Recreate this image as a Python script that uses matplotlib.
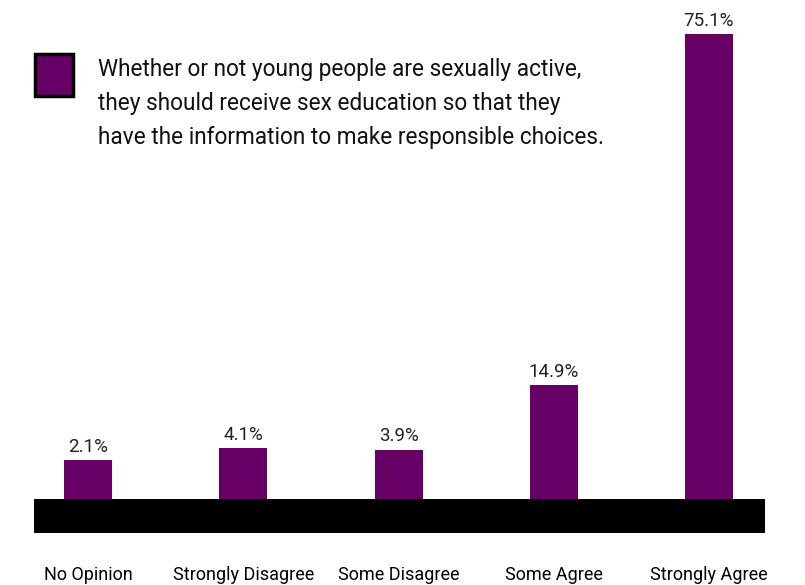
import matplotlib.pyplot as plt
from matplotlib.patches import Rectangle

categories = ["No Opinion", "Strongly Disagree", "Some Disagree", "Some Agree", "Strongly Agree"]
values = [2.1, 4.1, 3.9, 14.9, 75.1]
value_labels = ["2.1%", "4.1%", "3.9%", "14.9%", "75.1%"]
legend_text = ("Whether or not young people are sexually active,\n"
               "they should receive sex education so that they\n"
               "have the information to make responsible choices.")

purple = "#660066"
font = ["Roboto", "DejaVu Sans"]

W, H = 805, 585
fig = plt.figure(figsize=(W / 100, H / 100), dpi=100)

# floor sits under the bars, bars rise from its top edge
off = 4.57
ax = fig.add_axes([34 / W, (H - 499) / H, (765 - 34) / W, 499 / H])
x = list(range(len(categories)))
ax.bar(x, [v + off for v in values], bottom=-off, width=0.31, color=purple)
ax.set_xlim(-0.349, 4.361)
ax.set_ylim(-off, 80.9)
for xi, v, lab in zip(x, values, value_labels):
    ax.annotate(lab, (xi, v), xytext=(0, 3), textcoords="offset points",
                ha="center", va="bottom", fontsize=13.5, family=font, color="#222222")
ax.set_xticks(x)
ax.set_xticklabels(categories, fontsize=13, family=font)
ax.tick_params(axis="x", length=0, pad=48)
ax.tick_params(axis="y", left=False, labelleft=False)
for s in ax.spines.values():
    s.set_visible(False)
ax.patch.set_visible(False)

floor = fig.add_axes([34 / W, (H - 533) / H, (765 - 34) / W, 34 / H])
floor.set_facecolor("black")
floor.set_xticks([])
floor.set_yticks([])
for s in floor.spines.values():
    s.set_visible(False)

# legend
fig.patches.append(Rectangle((35 / W, (H - 96) / H), 38 / W, 42 / H, transform=fig.transFigure,
                             facecolor=purple, edgecolor="black", linewidth=2.5))
fig.text(98 / W, (H - 58) / H, legend_text, ha="left", va="top", fontsize=16.3,
         family=font, color="#111111", linespacing=1.6)

fig.savefig("out.png", dpi=100)
